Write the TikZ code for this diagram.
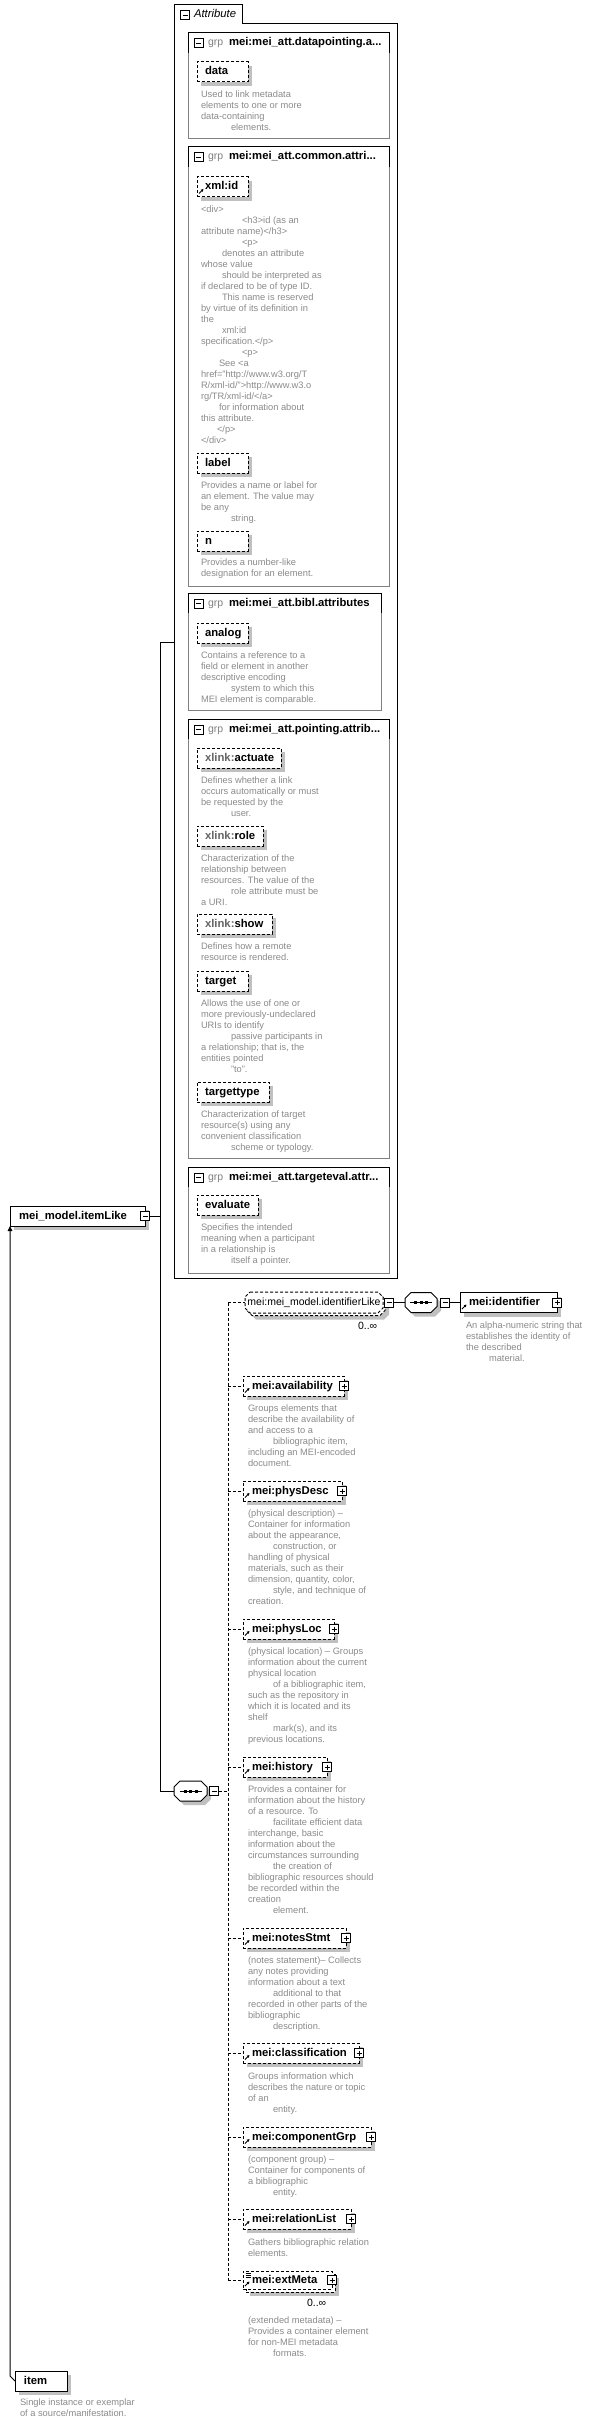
\documentclass[tikz,border=0pt]{standalone}
\usepackage{fontspec}
\setmainfont{Liberation Sans}
\usetikzlibrary{arrows.meta}
\definecolor{dgray}{RGB}{138,138,138}
\definecolor{shgray}{RGB}{192,192,192}
\definecolor{bgray}{RGB}{128,128,128}
\definecolor{xgray}{RGB}{100,100,100}
\newcommand\bx[2]{\makebox[#1pt][l]{\hspace*{8pt}#2}}
\newcommand\ex[2]{\makebox[#1pt][l]{\hspace*{9pt}#2}}
\newcommand\ind[1]{\hspace*{#1pt}}
% shadow rectangle: name, x, y (top-left of box), width, height
\newcommand\shd[5]{\node[shbox, minimum width=#4pt, minimum height=#5pt] (#1) at (#2+4,#3+4) {};}
% octagon: options, cx, cy, half width, half height, cut
\newcommand\octo[6]{\path[#1] (#2-#4+#6,#3-#5) -- (#2+#4-#6,#3-#5) -- (#2+#4,#3-#5+#6) -- (#2+#4,#3+#5-#6) -- (#2+#4-#6,#3+#5) -- (#2-#4+#6,#3+#5) -- (#2-#4,#3+#5-#6) -- (#2-#4,#3-#5+#6) -- cycle;}
\newcommand\grpbox[5]{%
  \node[gbox, minimum width=#3pt, minimum height=#4pt] (#1) at (188,#2) {};
  \draw ([yshift=-20pt]#1.north west) -- (#1.north west) -- (#1.north east) -- ([yshift=-20pt]#1.north east);
  \pic at ([shift={(10.5,10.5)}]#1.north west) {minusbtn};
  \node[grpf, anchor=west] (#1-g) at ([shift={(20,10)}]#1.north west) {grp};
  \node[hdrf, anchor=west] (#1-t) at ([shift={(41,10)}]#1.north west) {#5};}
\newcommand\attb[4]{\shd{#1-sh}{197}{#2}{#3}{20}\node[abox] (#1) at (197,#2) {\bx{#3}{#4}};}
\newcommand\dsc[4]{\node[dsc] (#1) at (#2,#3) {\rule{0pt}{7pt}#4};}
\newcommand\elb[4]{%
  \shd{#1-sh}{243}{#2}{#3}{20}
  \node[ebox] (#1) at (243,#2) {\ex{#3}{#4}};
  \pic at (#1.east) {plusbtn};
  \pic at ([shift={(2,-3.5)}]#1.south west) {refarrow};}
\begin{document}
\begin{tikzpicture}[x=1pt,y=-1pt,line width=1pt,
  every node/.style={inner sep=0pt, outer sep=0pt},
  dsh/.style={dash pattern=on 3pt off 2pt},
  lblf/.style={font=\fontsize{11.3}{13}\selectfont\bfseries},
  shbox/.style={fill=shgray, anchor=north west},
  abox/.style={draw, dsh, fill=white, anchor=north west, minimum height=20pt,
    text height=8pt, text depth=2pt, lblf},
  ebox/.style={abox},
  sbox/.style={draw, fill=white, anchor=north west, minimum height=20pt,
    text height=8pt, text depth=2pt, lblf},
  gbox/.style={draw=bgray, anchor=north west},
  grpf/.style={text=bgray, font=\fontsize{10.5}{12}\selectfont, text height=8pt, text depth=2pt},
  hdrf/.style={lblf, text height=8pt, text depth=2pt},
  dsc/.style={anchor=north west, align=left, text=dgray, font=\fontsize{9.3}{11}\selectfont},
  small/.style={font=\fontsize{10.5}{12}\selectfont, text height=8pt, text depth=2pt},
  minusbtn/.pic={\draw[fill=white,line width=1pt] (-4.5,-4.5) rectangle (4.5,4.5);
    \draw[line width=1pt] (-2.5,0) -- (2.5,0);},
  plusbtn/.pic={\draw[fill=white,line width=1pt] (-4.5,-4.5) rectangle (4.5,4.5);
    \draw[line width=1pt] (-2.5,0) -- (2.5,0) (0,-2.5) -- (0,2.5);},
  seqdots/.pic={\draw[line width=1pt] (-11,0) -- (11,0);
    \fill (-7,-1.5) rectangle (-4,1.5); \fill (-1.5,-1.5) rectangle (1.5,1.5); \fill (4,-1.5) rectangle (7,1.5);},
  refarrow/.pic={\draw[line width=0.8pt,-{Triangle[length=2.5pt,width=2.6pt]}] (0,0) -- (4.5,-4.5);},
  mixicon/.pic={\draw[line width=0.7pt] (0,0) -- (5,0) (0,2) -- (5,2) (0,4) -- (5,4);}
]
\useasboundingbox (0,0) rectangle (594,2424);

% ---------- Attribute container ----------
\draw (174,1278) -- (174,5) -- (242,5) -- (242,24) -- (397,24) -- (397,1278) -- cycle;
\node[minimum width=223pt, minimum height=1254pt, anchor=north west] (attr) at (174,24) {};
\pic at (185,15.5) {minusbtn};
\node[anchor=west, font=\fontsize{11.3}{13}\selectfont\itshape, text height=8pt, text depth=2pt] (attrlbl) at (194,15) {Attribute};

% ---------- attribute groups ----------
\grpbox{g1}{33}{201}{106}{mei:mei\_att.datapointing.a...}
\grpbox{g2}{147}{201}{439}{mei:mei\_att.common.attri...}
\grpbox{g3}{593}{193}{117}{mei:mei\_att.bibl.attributes}
\grpbox{g4}{719}{201}{439}{mei:mei\_att.pointing.attrib...}
\grpbox{g5}{1167}{201}{106}{mei:mei\_att.targeteval.attr...}

\attb{a-data}{62}{51}{data}
\dsc{d-data}{201}{91}{Used to link metadata\\elements to one or more\\data-containing\\\ind{30}elements.}

\attb{a-xmlid}{177}{51}{xml:id}
\pic at ([shift={(2,-3.5)}]a-xmlid.south west) {refarrow};
\dsc{d-xmlid}{201}{205}{<div>\\\ind{41}<h3>id (as an\\attribute name)</h3>\\\ind{41}<p>\\\ind{21}denotes an attribute\\whose value\\\ind{21}should be interpreted as\\if declared to be of type ID.\\\ind{21}This name is reserved\\by virtue of its definition in\\the\\\ind{21}xml:id\\specification.</p>\\\ind{41}<p>\\\ind{18}See <a\\href="http://www.w3.org/T\\R/xml-id/">http://www.w3.o\\rg/TR/xml-id/</a>\\\ind{18}for information about\\this attribute.\\\ind{16}</p>\\</div>}

\attb{a-label}{453}{51}{label}
\dsc{d-label}{201}{481}{Provides a name or label for\\an element. The value may\\be any\\\ind{30}string.}

\attb{a-n}{531}{51}{n}
\dsc{d-n}{201}{558}{Provides a number-like\\designation for an element.}

\attb{a-analog}{623}{51}{analog}
\dsc{d-analog}{201}{651}{Contains a reference to a\\field or element in another\\descriptive encoding\\\ind{30}system to which this\\MEI element is comparable.}

\attb{a-actuate}{748}{84}{\textcolor{xgray}{xlink:}actuate}
\dsc{d-actuate}{201}{776}{Defines whether a link\\occurs automatically or must\\be requested by the\\\ind{30}user.}

\attb{a-role}{826}{66}{\textcolor{xgray}{xlink:}role}
\dsc{d-role}{201}{854}{Characterization of the\\relationship between\\resources. The value of the\\\ind{30}role attribute must be\\a URI.}

\attb{a-show}{914}{75}{\textcolor{xgray}{xlink:}show}
\dsc{d-show}{201}{942}{Defines how a remote\\resource is rendered.}

\attb{a-target}{971}{51}{target}
\dsc{d-target}{201}{999}{Allows the use of one or\\more previously-undeclared\\URIs to identify\\\ind{30}passive participants in\\a relationship; that is, the\\entities pointed\\\ind{30}"to".}

\attb{a-targettype}{1082}{72}{targettype}
\dsc{d-targettype}{201}{1110}{Characterization of target\\resource(s) using any\\convenient classification\\\ind{30}scheme or typology.}

\attb{a-evaluate}{1195}{61}{evaluate}
\dsc{d-evaluate}{201}{1223}{Specifies the intended\\meaning when a participant\\in a relationship is\\\ind{30}itself a pointer.}

% ---------- mei_model.itemLike ----------
\shd{iL-sh}{10}{1206}{135}{20}
\node[sbox, minimum width=135pt] (iL) at (10,1206) {\ex{135}{mei\_model.itemLike}};
\pic at (iL.east) {minusbtn};
\coordinate (bus) at (160,1216);
\coordinate (attrin) at (174,642);
\draw ([xshift=4.5pt]iL.east) -- (bus);
\draw (bus) |- (attrin);

% ---------- sequence ----------
\octo{fill=shgray}{194.5}{1795}{16.5}{10}{6}
\octo{draw, fill=white}{190.5}{1791}{16.5}{10}{6}
\node[minimum width=33pt, minimum height=20pt] (s1) at (190.5,1791) {};
\pic at (s1.center) {seqdots};
\pic at ([xshift=7pt]s1.east) {minusbtn};
\draw (bus) |- (s1.west);
\coordinate (vb) at (228,1791);
\draw[dsh] ([xshift=11.5pt]s1.east) -- (vb);

% identifierLike group (0..inf)
\octo{fill=shgray}{320}{1309}{69}{10.5}{5}
\octo{draw, dsh, fill=white}{316}{1305}{69}{10.5}{5}
\octo{draw, dsh, fill=white}{314}{1302.5}{69}{10.5}{5}
\node[minimum width=138pt, minimum height=21pt, small] (il) at (314,1302.5) {mei:mei\_model.identifierLike};
\node[small, anchor=west] (il-occ) at (358,1326) {0..∞};
\pic at ([xshift=6pt]il.east) {minusbtn};
\octo{fill=shgray}{425}{1306.5}{16}{10}{6}
\octo{draw, fill=white}{421}{1302.5}{16}{10}{6}
\node[minimum width=32pt, minimum height=20pt] (s2) at (421,1302.5) {};
\pic at (s2.center) {seqdots};
\pic at ([xshift=8pt]s2.east) {minusbtn};
\draw ([xshift=10.5pt]il.east) -- (s2.west);
\shd{idf-sh}{460}{1292.5}{97}{20}
\node[sbox, minimum width=97pt] (idf) at (460,1292.5) {\ex{97}{mei:identifier}};
\pic at (idf.east) {plusbtn};
\pic at ([shift={(2,-3.5)}]idf.south west) {refarrow};
\draw ([xshift=12.5pt]s2.east) -- (idf.west);
\dsc{d-identifier}{466}{1321}{An alpha-numeric string that\\establishes the identity of\\the described\\\ind{23}material.}

% elements
\elb{e-avail}{1376}{101}{mei:availability}
\dsc{d-avail}{248}{1404}{Groups elements that\\describe the availability of\\and access to a\\\ind{25}bibliographic item,\\including an MEI-encoded\\document.}

\elb{e-physDesc}{1481}{99}{mei:physDesc}
\dsc{d-physDesc}{248}{1509}{(physical description) –\\Container for information\\about the appearance,\\\ind{25}construction, or\\handling of physical\\materials, such as their\\dimension, quantity, color,\\\ind{25}style, and technique of\\creation.}

\elb{e-physLoc}{1619}{91}{mei:physLoc}
\dsc{d-physLoc}{248}{1647}{(physical location) – Groups\\information about the current\\physical location\\\ind{25}of a bibliographic item,\\such as the repository in\\which it is located and its\\shelf\\\ind{25}mark(s), and its\\previous locations.}

\elb{e-history}{1757}{84}{mei:history}
\dsc{d-history}{248}{1785}{Provides a container for\\information about the history\\of a resource. To\\\ind{25}facilitate efficient data\\interchange, basic\\information about the\\circumstances surrounding\\\ind{25}the creation of\\bibliographic resources should\\be recorded within the\\creation\\\ind{25}element.}

\elb{e-notes}{1928}{103}{mei:notesStmt}
\dsc{d-notes}{248}{1956}{(notes statement)– Collects\\any notes providing\\information about a text\\\ind{25}additional to that\\recorded in other parts of the\\bibliographic\\\ind{25}description.}

\elb{e-class}{2043}{116}{mei:classification}
\dsc{d-class}{248}{2072}{Groups information which\\describes the nature or topic\\of an\\\ind{25}entity.}

\elb{e-comp}{2127}{128}{mei:componentGrp}
\dsc{d-comp}{248}{2155}{(component group) –\\Container for components of\\a bibliographic\\\ind{25}entity.}

\elb{e-rel}{2209}{108}{mei:relationList}
\dsc{d-rel}{248}{2238}{Gathers bibliographic relation\\elements.}

% extMeta (0..inf)
\shd{e-ext-sh}{246}{2274}{89}{18}
\node[abox, minimum width=89pt, minimum height=18pt] (e-ext-back) at (246,2274) {};
\node[draw, dsh, fill=white, anchor=north west, minimum height=18pt, text height=8pt, text depth=2pt, lblf] (e-ext) at (243,2271) {\ex{89}{mei:extMeta}};
\pic at (e-ext.east) {plusbtn};
\pic at ([shift={(2,-3)}]e-ext.south west) {refarrow};
\pic at ([shift={(2.5,2)}]e-ext.north west) {mixicon};
\node[small, anchor=west] (ext-occ) at (307,2303) {0..∞};
\dsc{d-ext}{248}{2316}{(extended metadata) –\\Provides a container element\\for non-MEI metadata\\\ind{25}formats.}

% dashed sequence bus
\draw[dsh] (vb |- il.west) -- (vb |- e-ext.west);
\foreach \n in {il,e-avail,e-physDesc,e-physLoc,e-history,e-notes,e-class,e-comp,e-rel,e-ext}
  \draw[dsh] (vb |- \n.west) -- (\n.west);

% ---------- item ----------
\shd{item-sh}{15}{2371}{52}{20}
\node[sbox, minimum width=52pt] (item) at (15,2371) {\ex{52}{item}};
\dsc{d-item}{20}{2398}{Single instance or exemplar\\of a source/manifestation.}
\draw[-{Triangle[length=5pt,width=4.5pt]}] (item.west) -- ([yshift=5pt]item.west -| iL.south west) -- (iL.south west);
\end{tikzpicture}
\end{document}
